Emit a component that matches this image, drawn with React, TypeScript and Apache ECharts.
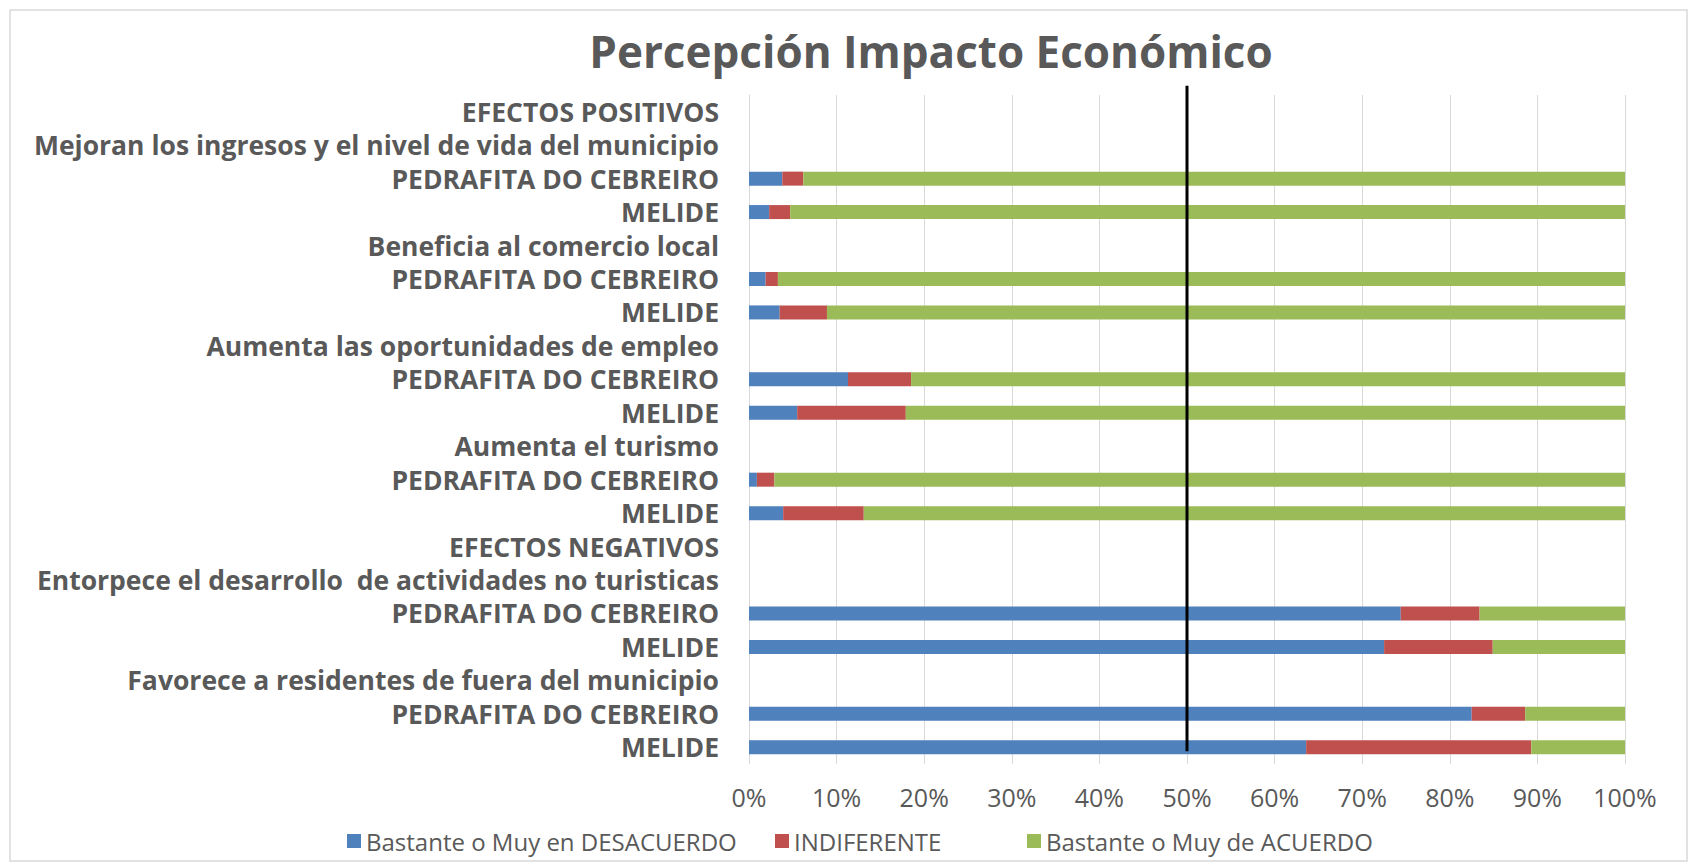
import React, { useEffect, useRef } from "react";
import * as echarts from "echarts";

const categories = [
  "EFECTOS POSITIVOS",
  "Mejoran los ingresos y el nivel de vida del municipio",
  "PEDRAFITA DO CEBREIRO",
  "MELIDE",
  "Beneficia al comercio local",
  "PEDRAFITA DO CEBREIRO",
  "MELIDE",
  "Aumenta las oportunidades de empleo",
  "PEDRAFITA DO CEBREIRO",
  "MELIDE",
  "Aumenta el turismo",
  "PEDRAFITA DO CEBREIRO",
  "MELIDE",
  "EFECTOS NEGATIVOS",
  "Entorpece el desarrollo  de actividades no turisticas",
  "PEDRAFITA DO CEBREIRO",
  "MELIDE",
  "Favorece a residentes de fuera del municipio",
  "PEDRAFITA DO CEBREIRO",
  "MELIDE",
];

const desacuerdo = [null, null, 3.8, 2.3, null, 1.9, 3.5, null, 11.3, 5.5, null, 0.9, 3.9, null, null, 74.4, 72.5, null, 82.5, 63.6];
const indiferente = [null, null, 2.4, 2.4, null, 1.4, 5.4, null, 7.2, 12.4, null, 2.0, 9.2, null, null, 9.0, 12.4, null, 6.1, 25.7];
const acuerdo = [null, null, 93.8, 95.3, null, 96.7, 91.1, null, 81.5, 82.1, null, 97.1, 86.9, null, null, 16.6, 15.1, null, 11.4, 10.7];

const seriesNames = ["Bastante o Muy en DESACUERDO", "INDIFERENTE", "Bastante o Muy de ACUERDO"];
const seriesColors = ["#4F81BD", "#C0504D", "#9BBB59"];
const legendLefts = [347, 775, 1027];
const referenceValue = 50;

const FONT = "'Open Sans', Lato, sans-serif";
const TEXT = "#595959";

export default function App() {
  const ref = useRef<HTMLDivElement>(null);
  useEffect(() => {
    if (!ref.current) return;
    const chart = echarts.init(ref.current, null, { renderer: "svg" });
    const values = [desacuerdo, indiferente, acuerdo];
    chart.setOption({
      animation: false,
      backgroundColor: "#ffffff",
      textStyle: { fontFamily: FONT },
      title: {
        text: "Percepción Impacto Económico",
        left: 926,
        textAlign: "center",
        top: 24,
        textStyle: { fontSize: 44, fontWeight: "bold", color: TEXT, fontFamily: FONT },
      },
      legend: seriesNames.map((name, i) => ({
        bottom: 11,
        left: legendLefts[i],
        padding: 0,
        icon: "rect",
        itemWidth: 14,
        itemHeight: 14,
        textStyle: { fontSize: 24, color: TEXT, fontFamily: FONT },
        data: [name],
      })),
      grid: { left: 749, right: 65, top: 95, bottom: 100 },
      xAxis: {
        type: "value",
        min: 0,
        max: 100,
        interval: 10,
        axisLine: { show: false },
        axisTick: { show: false },
        splitLine: { lineStyle: { color: "#D9D9D9", width: 1 } },
        axisLabel: { formatter: "{value}%", fontSize: 25, color: TEXT, margin: 20, fontFamily: FONT },
      },
      yAxis: {
        type: "category",
        inverse: true,
        data: categories,
        axisLine: { show: true, lineStyle: { color: "#D9D9D9" } },
        axisTick: { show: false },
        axisLabel: {
          interval: 0,
          hideOverlap: false,
          fontSize: 26.5,
          fontWeight: "bold",
          color: TEXT,
          margin: 30,
          fontFamily: FONT,
        },
      },
      series: seriesNames.map((name, i) => ({
        name,
        type: "bar",
        stack: "total",
        barWidth: 14,
        itemStyle: { color: seriesColors[i] },
        emphasis: { disabled: true },
        data: values[i],
      })),
    });
    const x = chart.convertToPixel({ xAxisIndex: 0 }, referenceValue) as number;
    const yTop = (chart.convertToPixel({ yAxisIndex: 0 }, 0) as number) - 26;
    const yBottom = (chart.convertToPixel({ yAxisIndex: 0 }, categories.length - 1) as number) + 4;
    chart.setOption({
      graphic: [
        {
          id: "border",
          type: "rect",
          shape: { x: 10, y: 10, width: 1677, height: 851 },
          style: { fill: "none", stroke: "#D9D9D9", lineWidth: 1.5 },
          silent: true,
        },
        {
          id: "ref",
          type: "line",
          shape: { x1: x, y1: yTop, x2: x, y2: yBottom },
          style: { stroke: "#000000", lineWidth: 3 },
          silent: true,
          z: 100,
        },
      ],
    });
    return () => chart.dispose();
  }, []);
  return <div ref={ref} style={{ position: "fixed", left: 0, top: 0, width: 1690, height: 864 }} />;
}
